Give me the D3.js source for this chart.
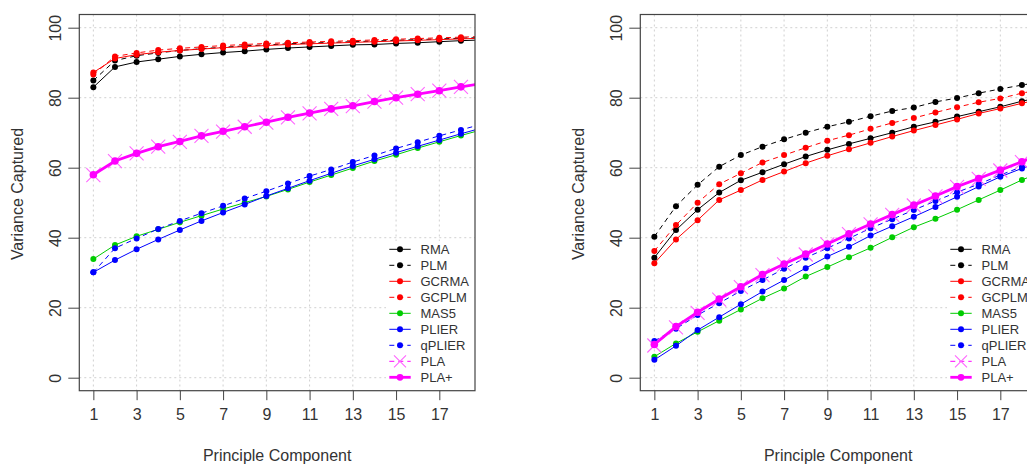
<!DOCTYPE html>
<html><head><meta charset="utf-8">
<script src="https://cdn.jsdelivr.net/npm/d3@7"></script>
<style>
html,body{margin:0;padding:0;background:#fff;}
text{font-family:"Liberation Sans",Arial,Helvetica,sans-serif;fill:#333;}
</style></head>
<body><svg id="chart" width="1027" height="466"></svg>
<script>
// ---------- data ----------
const components = [1,2,3,4,5,6,7,8,9,10,11,12,13,14,15,16,17,18,19];
const xTicks = [1,3,5,7,9,11,13,15,17,19];
const yTicks = [0,20,40,60,80,100];
const methods = ["RMA","PLM","GCRMA","GCPLM","MAS5","PLIER","qPLIER","PLA","PLA+"];
const colors  = ["#000000","#000000","#ff0000","#ff0000","#00cc00","#0000ff","#0000ff","#ff00ff","#ff00ff"];
const dashed  = [false,true,false,true,false,false,true,true,false];

// left panel
const leftRMA    = [83.0,88.8,90.2,91.0,91.8,92.4,92.9,93.3,93.8,94.2,94.5,94.8,95.1,95.2,95.5,95.7,96.0,96.3,96.5];
const leftPLM    = [84.9,90.6,92.0,92.8,93.5,94.0,94.4,94.8,95.1,95.4,95.6,95.8,96.0,96.2,96.4,96.6,96.8,97.0,97.2];
const leftGCRMA  = [87.2,91.2,92.3,93.0,93.5,93.9,94.3,94.6,94.9,95.2,95.4,95.6,95.8,96.0,96.2,96.4,96.6,96.8,97.0];
const leftGCPLM  = [86.6,91.8,92.8,93.6,94.1,94.5,94.9,95.2,95.5,95.7,95.9,96.1,96.3,96.5,96.7,96.9,97.1,97.3,97.5];
const leftMAS5   = [33.9,37.9,40.4,42.4,44.4,46.3,48.2,50.0,51.8,53.8,55.9,57.9,59.9,61.9,63.7,65.6,67.4,69.2,70.9];
const leftPLIER  = [30.1,33.6,36.7,39.5,42.2,44.8,47.2,49.5,51.9,54.1,56.3,58.4,60.5,62.4,64.3,66.1,67.9,69.7,71.4];
const leftQPLIER = [30.1,37.0,39.8,42.5,44.8,47.0,49.1,51.2,53.3,55.5,57.6,59.5,61.6,63.5,65.5,67.3,69.1,70.8,72.5];
const leftPLA    = [57.9,61.9,64.1,66.0,67.4,69.1,70.3,71.7,72.9,74.4,75.5,76.8,77.6,78.9,80.0,81.0,82.0,83.1,84.1];
const leftPLAplus= [58.0,61.9,64.1,66.0,67.5,69.1,70.4,71.7,73.0,74.4,75.6,76.8,77.7,78.9,80.0,81.0,82.0,83.1,84.1];

// right panel
const rightRMA    = [34.3,42.2,48.0,52.9,56.4,58.7,61.0,63.2,65.1,66.8,68.4,70.0,71.7,73.1,74.6,76.0,77.4,79.0,80.3];
const rightPLM    = [40.3,49.0,55.1,60.3,63.6,66.0,68.1,70.0,71.7,73.1,74.7,76.2,77.2,78.8,79.9,81.3,82.5,83.6,84.7];
const rightGCRMA  = [32.7,39.5,45.0,50.8,53.6,56.5,58.9,61.3,63.4,65.3,67.1,68.9,70.6,72.2,73.8,75.5,76.9,78.4,79.8];
const rightGCPLM  = [36.2,43.6,50.0,55.3,58.4,61.5,63.6,65.7,67.7,69.3,71.1,72.8,74.2,75.8,77.3,78.7,79.8,81.3,82.5];
const rightMAS5   = [6.0,9.8,13.1,16.3,19.5,22.7,25.5,28.9,31.6,34.4,37.1,40.1,43.0,45.4,48.0,50.8,53.6,56.5,59.0];
const rightPLIER  = [5.1,9.1,13.6,17.3,21.0,24.6,27.9,31.3,34.6,37.4,40.6,43.3,46.0,48.8,51.7,54.6,57.4,59.8,62.0];
const rightQPLIER = [10.5,14.0,17.9,21.3,24.8,27.9,31.1,34.3,37.0,39.8,42.7,45.3,47.9,50.5,53.0,55.3,57.9,60.3,62.6];
const rightPLA    = [9.2,14.4,18.5,22.3,25.9,29.3,32.4,35.2,38.1,41.0,43.8,46.5,49.2,51.8,54.5,56.8,59.2,61.6,63.9];
const rightPLAplus= [9.5,14.6,18.7,22.5,26.0,29.5,32.5,35.3,38.2,41.1,43.9,46.6,49.3,51.9,54.6,56.9,59.3,61.7,64.0];

const leftSeries  = [leftRMA,leftPLM,leftGCRMA,leftGCPLM,leftMAS5,leftPLIER,leftQPLIER,leftPLA,leftPLAplus];
const rightSeries = [rightRMA,rightPLM,rightGCRMA,rightGCPLM,rightMAS5,rightPLIER,rightQPLIER,rightPLA,rightPLAplus];

// ---------- drawing ----------
const svg = d3.select("#chart");
svg.append("rect").attr("width",1027).attr("height",466).attr("fill","#fff");

const box = {l:79.3, r:475, t:14.5, b:390.7};
const x = d3.scaleLinear().domain([0.35,18.65]).range([box.l, box.r]);
const y = d3.scaleLinear().domain([0,100]).range([377.7,27.7]);

function crossPath(cx, cy, s){
  return `M${cx-s},${cy-s}L${cx+s},${cy+s}M${cx-s},${cy+s}L${cx+s},${cy-s}`;
}

function panel(dx, series, id){
  const g = svg.append("g").attr("transform",`translate(${dx},0)`);
  g.append("clipPath").attr("id","clip"+id).append("rect")
    .attr("x",box.l).attr("y",box.t).attr("width",box.r-box.l).attr("height",box.b-box.t);
  // grid
  const grid = g.append("g").attr("stroke","#d0d0d0").attr("stroke-width",1).attr("stroke-dasharray","2,3");
  xTicks.filter(t=>x(t)<box.r).forEach(t=>{
    grid.append("line").attr("x1",x(t)).attr("x2",x(t)).attr("y1",box.t).attr("y2",box.b);
  });
  yTicks.forEach(t=>{
    grid.append("line").attr("x1",box.l).attr("x2",box.r).attr("y1",y(t)).attr("y2",y(t));
  });
  // series
  const plot = g.append("g").attr("clip-path",`url(#clip${id})`);
  const line = d3.line().x((d,i)=>x(components[i])).y(d=>y(d));
  series.forEach((vals,k)=>{
    const name = methods[k];
    const isPlus = name==="PLA+";
    plot.append("path").datum(vals).attr("d",line)
      .attr("fill","none").attr("stroke",colors[k])
      .attr("stroke-width", isPlus?2.8:1)
      .attr("stroke-dasharray", dashed[k]? "5,4": null);
    if(name==="PLA"){
      plot.append("g").selectAll("path").data(vals).join("path")
        .attr("d",(d,i)=>crossPath(x(components[i]),y(d),7))
        .attr("stroke","#ff66ff").attr("stroke-width",1.1).attr("fill","none");
    } else {
      plot.append("g").selectAll("circle").data(vals).join("circle")
        .attr("cx",(d,i)=>x(components[i])).attr("cy",d=>y(d))
        .attr("r", isPlus?3.8:3).attr("fill",colors[k]);
    }
  });
  // legend
  const lg = g.append("g");
  lg.append("rect").attr("x",386).attr("y",241).attr("width",box.r-386).attr("height",box.b-241-0.5).attr("fill","#fff");
  methods.forEach((m,k)=>{
    const ry = 249.3 + 16*k;
    const isPlus = m==="PLA+";
    lg.append("line").attr("x1",389.3).attr("x2",410.7).attr("y1",ry).attr("y2",ry)
      .attr("stroke",colors[k]).attr("stroke-width",isPlus?2.8:1)
      .attr("stroke-dasharray", dashed[k]? "5,4": null);
    if(m==="PLA"){
      lg.append("path").attr("d",crossPath(400,ry,6)).attr("stroke","#ff66ff").attr("stroke-width",1.1).attr("fill","none");
    } else {
      lg.append("circle").attr("cx",400).attr("cy",ry).attr("r",isPlus?3.4:3).attr("fill",colors[k]);
    }
    lg.append("text").attr("x",420.5).attr("y",ry).attr("dy","0.36em")
      .attr("font-size",13).text(m);
  });
  // box
  g.append("rect").attr("x",box.l).attr("y",box.t).attr("width",box.r-box.l).attr("height",box.b-box.t)
    .attr("fill","none").attr("stroke","#444").attr("stroke-width",1.2);
  // axes
  const xAxis = d3.axisBottom(x).tickValues(xTicks.filter(t=>x(t)<box.r)).tickSize(9.5).tickSizeOuter(0).tickPadding(8);
  const xa = g.append("g").attr("transform",`translate(0,${box.b})`).call(xAxis);
  xa.selectAll(".domain").remove();
  xa.selectAll(".tick line").attr("stroke","#444");
  xa.selectAll(".tick text").attr("font-size",16).attr("fill","#333")
    .attr("font-family","Liberation Sans, Arial, sans-serif").attr("dy","0.71em");

  const yAxis = d3.axisLeft(y).tickValues(yTicks).tickSize(11).tickSizeOuter(0);
  const ya = g.append("g").attr("transform",`translate(${box.l},0)`).call(yAxis);
  ya.select(".domain").remove();
  ya.selectAll(".tick line").attr("stroke","#444");
  ya.selectAll(".tick text").remove();
  ya.selectAll(".tick").append("text")
    .attr("transform","translate(-18,0) rotate(-90)")
    .attr("text-anchor","middle").attr("font-size",16).attr("fill","#333")
    .attr("font-family","Liberation Sans, Arial, sans-serif")
    .text(d=>d);
  // titles
  g.append("text").attr("x",(box.l+box.r)/2).attr("y",461).attr("text-anchor","middle")
    .attr("font-size",16).text("Principle Component");
  g.append("text").attr("transform",`translate(23,194) rotate(-90)`).attr("text-anchor","middle")
    .attr("font-size",16).text("Variance Captured");
}

panel(0, leftSeries, "L");
panel(561, rightSeries, "R");
</script>
</body></html>
